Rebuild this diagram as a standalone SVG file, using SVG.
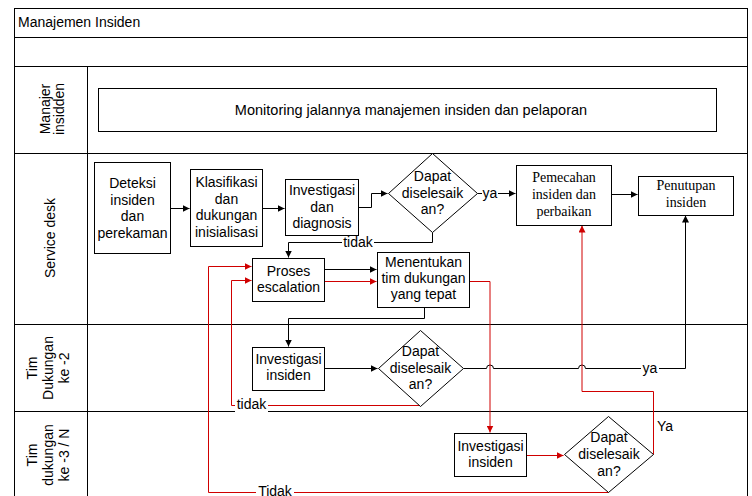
<svg xmlns="http://www.w3.org/2000/svg" width="752" height="496" viewBox="0 0 752 496">
<style>
text{font-family:"Liberation Sans",Arial,sans-serif;font-size:14px;fill:#000}
.serif{font-family:"Liberation Serif","Times New Roman",serif}
.c{text-anchor:middle}
.frame{fill:none;stroke:#000;stroke-width:1}
.node{fill:#fff;stroke:#000;stroke-width:1}
.blk{fill:none;stroke:#000;stroke-width:1}
.red{fill:none;stroke:#d00000;stroke-width:1}
.lblbg{fill:#fff;stroke:none}
</style>
<defs>
<marker id="ab" viewBox="0 0 10 10" refX="10" refY="5" markerWidth="7" markerHeight="7" markerUnits="userSpaceOnUse" orient="auto">
<path d="M0,0 L10,5 L0,10 z" fill="#000"/>
</marker>
<marker id="ar" viewBox="0 0 10 10" refX="10" refY="5" markerWidth="7" markerHeight="7" markerUnits="userSpaceOnUse" orient="auto">
<path d="M0,0 L10,5 L0,10 z" fill="#d00000"/>
</marker>
</defs>
<rect width="752" height="496" fill="#fff"/>
<g id="pool">
<rect class="frame" x="14.5" y="8.5" width="733" height="500"/>
<line class="frame" x1="14.5" y1="37.5" x2="747.5" y2="37.5"/>
<line class="frame" x1="14.5" y1="66.5" x2="747.5" y2="66.5"/>
<line class="frame" x1="14.5" y1="153.5" x2="747.5" y2="153.5"/>
<line class="frame" x1="14.5" y1="324.5" x2="747.5" y2="324.5"/>
<line class="frame" x1="14.5" y1="411.5" x2="747.5" y2="411.5"/>
<line class="frame" x1="87.5" y1="66.5" x2="87.5" y2="496"/>
<text x="18" y="27">Manajemen Insiden</text>
</g>
<g id="lane-manajer">
<text class="c" transform="translate(50,109) rotate(-90)"><tspan x="0" y="0">Manajer</tspan><tspan x="0" y="14">insidden</tspan></text>
</g>
<g id="lane-servicedesk">
<text class="c" transform="translate(55,238) rotate(-90)">Service desk</text>
</g>
<g id="lane-tim2">
<text class="c" transform="translate(37,368) rotate(-90)"><tspan x="0" y="0">Tim</tspan><tspan x="0" y="16">Dukungan</tspan><tspan x="0" y="32">ke -2</tspan></text>
</g>
<g id="lane-tim3">
<text class="c" transform="translate(37,455) rotate(-90)"><tspan x="0" y="0">Tim</tspan><tspan x="0" y="16">dukungan</tspan><tspan x="0" y="32">ke -3 / N</tspan></text>
</g>
<g id="connectors">
<path class="blk" d="M170.5,208.5 H189.5" marker-end="url(#ab)"/>
<path class="blk" d="M262.5,208.5 H284.5" marker-end="url(#ab)"/>
<path class="blk" d="M358.5,207.5 H371.5 V193.5 H387.5" marker-end="url(#ab)"/>
<path class="blk" d="M477.5,193.5 H515.5" marker-end="url(#ab)"/>
<path class="blk" d="M611.5,194.5 H637.5" marker-end="url(#ab)"/>
<path class="blk" d="M432.5,232.5 V242.5 H288.5 V257.5" marker-end="url(#ab)"/>
<path class="blk" d="M324.5,269.5 H376.5" marker-end="url(#ab)"/>
<path class="blk" d="M424.5,307.5 V318.5 H288.5 V346.5" marker-end="url(#ab)"/>
<path class="blk" d="M324.5,368.5 H377.5" marker-end="url(#ab)"/>
<path class="blk" d="M463.5,368.5 H486.5 a3.5,3.5 0 0 1 7,0 H578.5 a3.5,3.5 0 0 1 7,0 H685.5 V215.5" marker-end="url(#ab)"/>
<path class="red" d="M324.5,281.5 H376.5" marker-end="url(#ar)"/>
<path class="red" d="M469.5,281.5 H490 V432.5" marker-end="url(#ar)"/>
<path class="red" d="M526.5,455.5 H563.5" marker-end="url(#ar)"/>
<path class="red" d="M653.5,454.5 V391.5 H582 V225.5" marker-end="url(#ar)"/>
<path class="red" d="M420.5,405.5 H231.5 V280.5 H251.5" marker-end="url(#ar)"/>
<path class="red" d="M608.5,492.5 H208.5 V266.5 H251.5" marker-end="url(#ar)"/>
<rect class="lblbg" x="482" y="186" width="16" height="15"/>
<text class="c" x="490" y="198">ya</text>
<rect class="lblbg" x="342" y="235" width="32" height="15"/>
<text class="c" x="358" y="247">tidak</text>
<rect class="lblbg" x="641" y="361" width="18" height="15"/>
<text class="c" x="650" y="373">ya</text>
<rect class="lblbg" x="235" y="397" width="33" height="16"/>
<text class="c" x="251.5" y="409">tidak</text>
<rect class="lblbg" x="256" y="485" width="38" height="11"/>
<text class="c" x="275" y="495.5">Tidak</text>
<text x="657" y="431">Ya</text>
</g>
<g id="monitoring">
<rect class="node" x="98.5" y="88.5" width="618" height="43"/>
<text class="c" x="411" y="115" style="font-size:14.5px">Monitoring jalannya manajemen insiden dan pelaporan</text>
</g>
<g id="deteksi">
<rect class="node" x="94.5" y="162.5" width="76" height="91"/>
<text class="c"><tspan x="132.5" y="188">Deteksi</tspan><tspan x="132.5" y="204.5">insiden</tspan><tspan x="132.5" y="221">dan</tspan><tspan x="132.5" y="237.5">perekaman</tspan></text>
</g>
<g id="klasifikasi">
<rect class="node" x="190.5" y="169.5" width="72" height="77"/>
<text class="c"><tspan x="226.5" y="187">Klasifikasi</tspan><tspan x="226.5" y="203.5">dan</tspan><tspan x="226.5" y="220">dukungan</tspan><tspan x="226.5" y="236.5">inisialisasi</tspan></text>
</g>
<g id="investigasi-diagnosis">
<rect class="node" x="285.5" y="179.5" width="73" height="56"/>
<text class="c"><tspan x="322" y="195">Investigasi</tspan><tspan x="322" y="211.5">dan</tspan><tspan x="322" y="228">diagnosis</tspan></text>
</g>
<g id="keputusan-1">
<polygon class="node" points="432.5,153.5 477.5,193.5 432.5,232.5 388.5,193.5"/>
<text class="c"><tspan x="432.5" y="181">Dapat</tspan><tspan x="432.5" y="197.5">diselesaik</tspan><tspan x="432.5" y="214">an?</tspan></text>
</g>
<g id="pemecahan">
<rect class="node" x="516.5" y="165.5" width="95" height="60"/>
<text class="c serif"><tspan x="564" y="182">Pemecahan</tspan><tspan x="564" y="199">insiden dan</tspan><tspan x="564" y="216">perbaikan</tspan></text>
</g>
<g id="penutupan">
<rect class="node" x="638.5" y="176.5" width="95" height="39"/>
<text class="c serif"><tspan x="686" y="190">Penutupan</tspan><tspan x="686" y="207">insiden</tspan></text>
</g>
<g id="proses-escalation">
<rect class="node" x="252.5" y="258.5" width="72" height="43"/>
<text class="c"><tspan x="288.5" y="276">Proses</tspan><tspan x="288.5" y="292">escalation</tspan></text>
</g>
<g id="menentukan">
<rect class="node" x="377.5" y="252.5" width="92" height="55"/>
<text class="c"><tspan x="423.5" y="267">Menentukan</tspan><tspan x="423.5" y="283">tim dukungan</tspan><tspan x="423.5" y="299">yang tepat</tspan></text>
</g>
<g id="investigasi-2">
<rect class="node" x="252.5" y="347.5" width="72" height="43"/>
<text class="c"><tspan x="288.5" y="364">Investigasi</tspan><tspan x="288.5" y="380">insiden</tspan></text>
</g>
<g id="keputusan-2">
<polygon class="node" points="420.5,330.5 463.5,368.5 420.5,406.5 378.5,368.5"/>
<text class="c"><tspan x="420.5" y="356">Dapat</tspan><tspan x="420.5" y="372.5">diselesaik</tspan><tspan x="420.5" y="389">an?</tspan></text>
</g>
<g id="investigasi-3">
<rect class="node" x="454.5" y="433.5" width="72" height="43"/>
<text class="c"><tspan x="490.5" y="451">Investigasi</tspan><tspan x="490.5" y="467">insiden</tspan></text>
</g>
<g id="keputusan-3">
<polygon class="node" points="608.5,416.5 653.5,454.5 608.5,492.5 564.5,454.5"/>
<text class="c"><tspan x="609" y="442">Dapat</tspan><tspan x="609" y="459">diselesaik</tspan><tspan x="609" y="476">an?</tspan></text>
</g>
</svg>
